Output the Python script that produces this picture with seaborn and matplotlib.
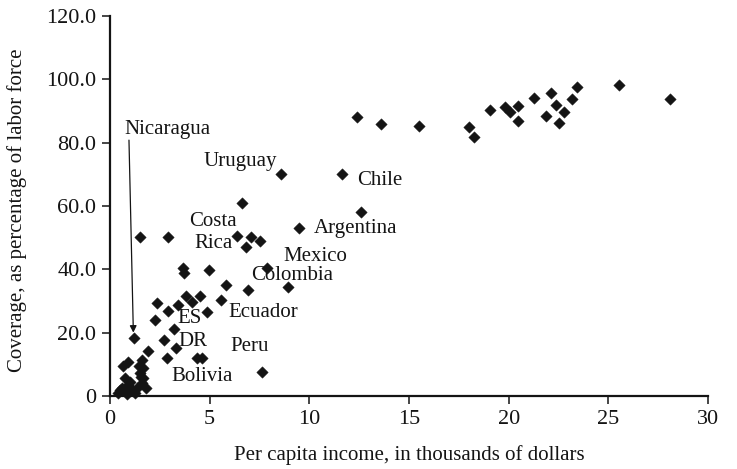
import matplotlib
matplotlib.use("Agg")
import matplotlib.pyplot as plt
import seaborn as sns
import pandas as pd

# Per capita income (thousands of dollars) and pension coverage (% of labor force)
income = [
    # high-income group
    12.4, 13.6, 15.5, 18.0, 18.25, 19.05, 19.8, 20.05, 20.45, 20.45,
    21.25, 21.85, 22.1, 22.35, 22.75, 22.5, 23.2, 23.45, 25.55, 28.1,
    # Latin America and middle income
    8.6, 11.65, 6.6, 12.6, 9.5, 6.35, 7.08, 7.5, 6.8, 1.5, 2.9,
    3.68, 3.73, 4.97, 7.89, 5.8, 6.9, 8.95, 3.8, 4.52, 5.55, 2.35,
    4.1, 3.42, 2.93, 4.88, 2.26, 3.2, 1.18, 2.7, 3.3, 2.88, 4.35, 4.6,
    7.6,
    # low-income cluster
    0.88, 0.65, 0.75, 0.6, 1.0, 1.1, 0.9, 0.4, 0.85, 0.5,
    1.9, 1.6, 1.67, 1.5, 1.67, 1.6, 1.78, 1.35, 1.25, 1.45, 1.55,
]
coverage = [
    88.0, 85.9, 85.4, 85.0, 81.9, 90.3, 91.2, 89.8, 91.7, 86.9,
    94.1, 88.4, 95.8, 92.0, 89.6, 86.1, 93.9, 97.5, 98.2, 93.9,
    70.1, 70.1, 60.8, 58.2, 53.1, 50.5, 50.3, 48.9, 47.2, 50.1, 50.1,
    40.3, 38.9, 39.7, 40.5, 35.0, 33.4, 34.3, 31.6, 31.6, 30.2, 29.3,
    29.6, 28.6, 26.7, 26.5, 24.1, 21.3, 18.3, 17.8, 15.3, 12.1, 12.0, 12.1,
    7.7,
    10.8, 9.5, 5.6, 2.4, 4.5, 1.9, 3.5, 1.0, 0.6, 1.8,
    14.1, 11.4, 8.7, 7.2, 5.6, 4.0, 2.4, 2.4, 0.9, 9.5, 6.0,
]

# Country labels: (text, x, y) placed beside their markers
country_names = ["Uruguay", "Chile", "Costa", "Rica", "Argentina", "Mexico",
                 "Colombia", "Ecuador", "ES", "DR", "Peru", "Bolivia"]
name_x = [6.52, 13.55, 5.17, 5.17, 12.34, 10.29, 9.13, 7.68, 4.01, 4.16, 7.02, 4.62]
name_y = [74.0, 68.2, 55.1, 48.3, 52.9, 44.2, 37.9, 26.3, 24.6, 17.1, 15.5, 6.3]

xticks = [0, 5, 10, 15, 20, 25, 30]
yticks = [0, 20, 40, 60, 80, 100, 120]
ytick_labels = ["0", "20.0", "40.0", "60.0", "80.0", "100.0", "120.0"]

df = pd.DataFrame({"income": income, "coverage": coverage})

sns.set_theme(style="ticks")
plt.rcParams["font.family"] = ["Liberation Serif", "DejaVu Serif"]
ink = "#141414"

fig = plt.figure(figsize=(7.37, 4.69), dpi=100)
ax = fig.add_axes([0.1493, 0.1557, 0.8114, 0.8102])

sns.scatterplot(data=df, x="income", y="coverage", marker="D", s=34,
                color=ink, edgecolor=ink, linewidth=0.3, ax=ax, zorder=3)
for coll in ax.collections:
    coll.set_clip_on(False)

ax.set_xlim(0, 30)
ax.set_ylim(0, 120)
ax.set_xticks(xticks)
ax.set_yticks(yticks, labels=ytick_labels)

sns.despine(ax=ax)
for side in ("left", "bottom"):
    ax.spines[side].set_linewidth(1.6)
    ax.spines[side].set_color(ink)
ax.tick_params(axis="both", direction="out", length=6, width=1.1,
               color=ink, labelcolor=ink, labelsize=16, pad=4)

ax.set_xlabel("Per capita income, in thousands of dollars", fontsize=15, color=ink)
ax.set_ylabel("Coverage, as percentage of labor force", fontsize=15, color=ink)
ax.xaxis.set_label_coords(0.5, -0.128)
ax.yaxis.set_label_coords(-0.139, 0.49)

for name, x, y in zip(country_names, name_x, name_y):
    ax.text(x, y, name, fontsize=15, color=ink, ha="center", va="center")

# Nicaragua label with a pointer arrow down to its marker
ax.text(2.86, 84.3, "Nicaragua", fontsize=15, color=ink, ha="center", va="center")
ax.annotate("", xy=(1.17, 20.0), xytext=(0.95, 80.8),
            arrowprops=dict(arrowstyle="-|>", color=ink, lw=0.9,
                            mutation_scale=10, shrinkA=0, shrinkB=0))

fig.savefig("out.png", dpi=100)
